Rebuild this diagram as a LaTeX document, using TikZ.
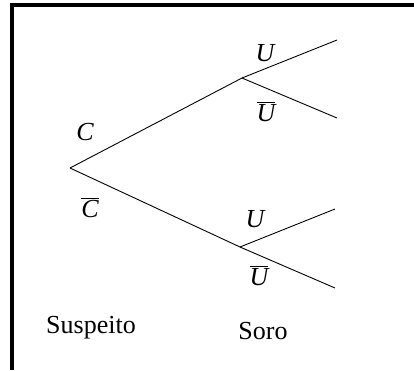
\documentclass[tikz,border=0pt]{standalone}
\usepackage{fontspec}
\setmainfont{Liberation Serif}
\usepackage{tikz}
\usetikzlibrary{positioning}
\newcommand{\barra}[1]{$\overline{\mbox{\itshape #1}}$}

\begin{document}
\begin{tikzpicture}[x=1pt, y=-1pt,
  ramo/.style={line width=0.9pt},
  rotulo/.style={anchor=base, inner sep=0pt, font=\fontsize{26}{30}\selectfont}]
\useasboundingbox (0,0) rectangle (414,370);
%--- moldura ---
\draw[line width=4pt] (414,5) -- (12,5) -- (12,370);
%--- pontos da arvore ---
\coordinate (raiz) at (70,168);
\coordinate (c) at (242,78);
\coordinate (nc) at (240,247);
\coordinate (cu) at (337,40);
\coordinate (cnu) at (337,118);
\coordinate (ncu) at (335,209);
\coordinate (ncnu) at (335,288);
% ramos
\draw[ramo] (raiz) -- (c);
\draw[ramo] (raiz) -- (nc);
\draw[ramo] (c) -- (cu);
\draw[ramo] (c) -- (cnu);
\draw[ramo] (nc) -- (ncu);
\draw[ramo] (nc) -- (ncnu);
% rotulos
\node[rotulo] (lc) at (85,140) {\itshape C};
\node[rotulo] (lnc) at (90,217) {\barra{C}};
\node[rotulo] (lcu) at (265,61) {\itshape U};
\node[rotulo] (lcnu) at (266,121) {\barra{U}};
\node[rotulo] (lncu) at (255,227) {\itshape U};
\node[rotulo] (lncnu) at (259,285) {\barra{U}};
%--- etapas ---
\node[rotulo] (suspeito) at (91,333) {Suspeito};
\node[rotulo] (soro) at (263,339) {Soro};
\end{tikzpicture}
\end{document}
